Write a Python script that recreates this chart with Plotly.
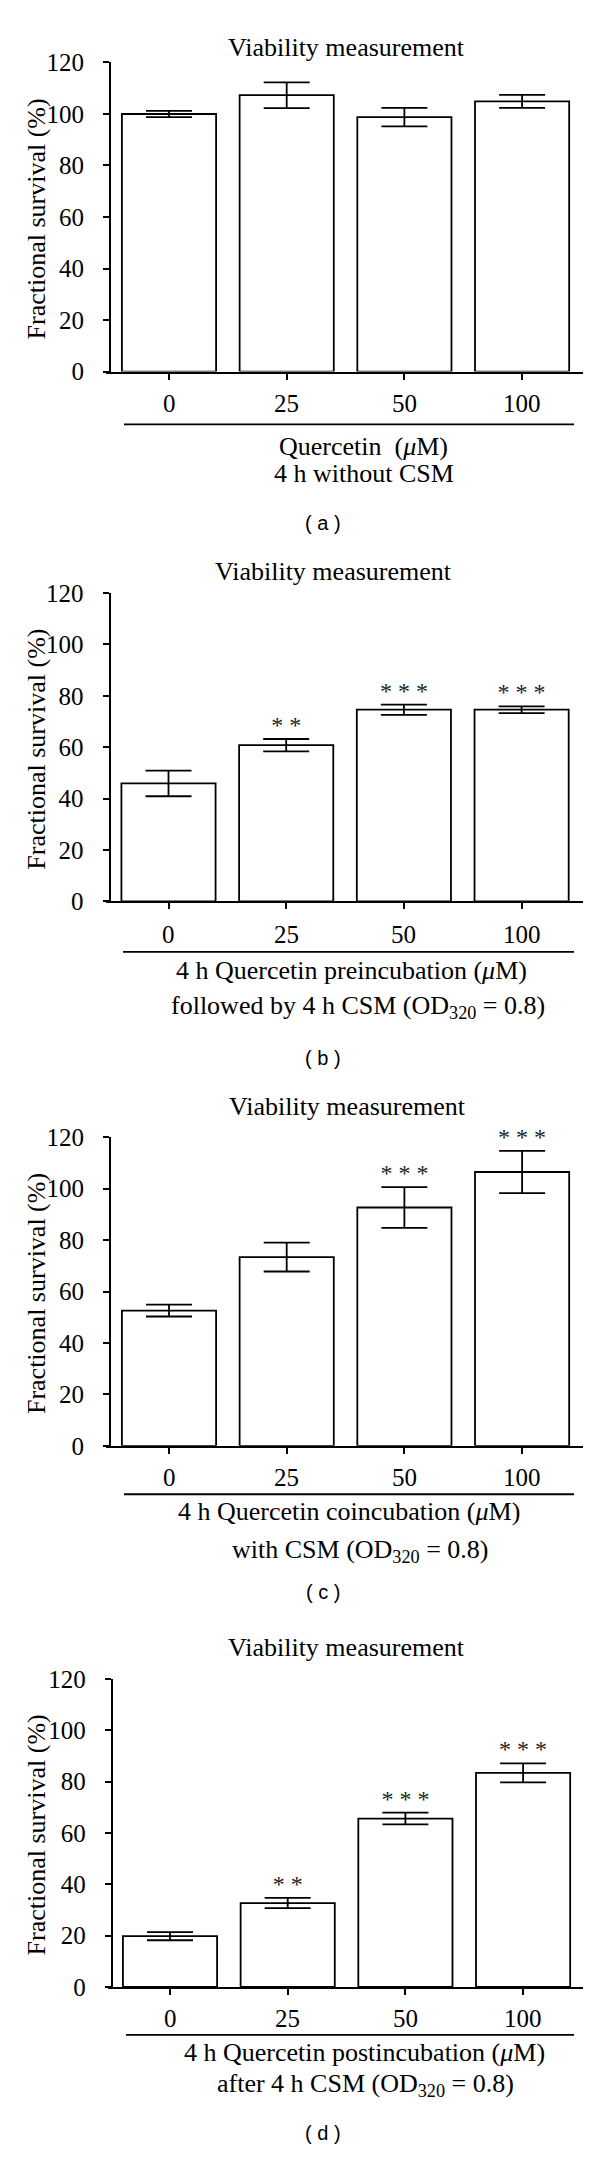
import plotly.graph_objects as go

# page body has an 8px default margin; figure coordinates are compensated
OFF = 8
W, H = 600 - 2 * OFF, 2164 - 2 * OFF

categories = ["0", "25", "50", "100"]

# panel data
vals_a = [100.0, 107.3, 98.8, 104.9]
errs_a = [1.2, 5.0, 3.6, 2.5]
stars_a = ["", "", "", ""]

vals_b = [45.9, 60.8, 74.6, 74.6]
errs_b = [5.0, 2.4, 2.0, 1.3]
stars_b = ["", "* *", "* * *", "* * *"]

vals_c = [52.6, 73.4, 92.7, 106.5]
errs_c = [2.3, 5.6, 7.9, 8.2]
stars_c = ["", "", "* * *", "* * *"]

vals_d = [19.8, 32.7, 65.6, 83.4]
errs_d = [1.6, 2.0, 2.3, 3.7]
stars_d = ["", "* *", "* * *", "* * *"]

titles = ["Viability measurement"] * 4
xtitle1 = ["Quercetin  (<i>μ</i>M)",
           "4 h Quercetin preincubation (<i>μ</i>M)",
           "4 h Quercetin coincubation (<i>μ</i>M)",
           "4 h Quercetin postincubation (<i>μ</i>M)"]
xtitle2 = ["4 h without CSM",
           "followed by 4 h CSM (OD<sub>320</sub> = 0.8)",
           "with CSM (OD<sub>320</sub> = 0.8)",
           "after 4 h CSM (OD<sub>320</sub> = 0.8)"]
panel_labels = ["( a )", "( b )", "( c )", "( d )"]
ytitle = "Fractional survival (%)"
ytickvals = [0, 20, 40, 60, 80, 100, 120]

panels = [
    dict(v=vals_a, e=errs_a, s=stars_a, title=(346, 34.6), top=50, bot=363, tl_y=395, line_y=416.5,
         xt1=(363.5, 439), xt2=(363.5, 466), lab_y=516, yax_x=110, x0=105.8, c0=169, lx=(124, 574)),
    dict(v=vals_b, e=errs_b, s=stars_b, title=(333.7, 566), top=587.4, bot=899.5, tl_y=933.3, line_y=950.8,
         xt1=(351, 970), xt2=(357.7, 1007), lab_y=1058, yax_x=109.6, x0=105.5, c0=168.5, lx=(123, 574)),
    dict(v=vals_c, e=errs_c, s=stars_c, title=(347, 1107), top=1138.5, bot=1451, tl_y=1483, line_y=1500,
         xt1=(349, 1517.5), xt2=(359.6, 1557), lab_y=1599, yax_x=110, x0=105.8, c0=169, lx=(124, 574)),
    dict(v=vals_d, e=errs_d, s=stars_d, title=(346.5, 1655), top=1687, bot=1999, tl_y=2030.7, line_y=2047.5,
         xt1=(364.4, 2065.5), xt2=(365.4, 2098), lab_y=2147, yax_x=111.7, x0=107.5, c0=170, lx=(126, 574)),
]

SERIF = "Liberation Serif, Times New Roman, serif"
FS = 26
TFS = 25
SPACING = 117.7  # px between bar centres

fig = go.Figure()
layout = dict(
    width=W, height=H, margin=dict(l=0, r=0, t=0, b=0, pad=0),
    paper_bgcolor="white", plot_bgcolor="rgba(0,0,0,0)",
    showlegend=False, font=dict(family=SERIF, size=FS, color="black"),
)
annotations = []
shapes = []

def px(x):
    return (x - OFF) / W

def py(y):
    return 1 - (y - OFF) / H

xpos = list(range(len(categories)))

for i, p in enumerate(panels):
    n = "" if i == 0 else str(i + 1)
    xa, ya = "x" + n, "y" + n
    fig.add_trace(go.Bar(
        x=xpos, y=p["v"], xaxis=xa, yaxis=ya, width=0.8,
        marker=dict(color="white", line=dict(color="black", width=1.8)),
        error_y=dict(type="data", array=p["e"], color="black", thickness=1.8, width=23),
        hoverinfo="skip",
    ))
    sx = [xpos[k] for k in range(len(xpos)) if p["s"][k]]
    sy = [p["v"][k] + p["e"][k] for k in range(len(xpos)) if p["s"][k]]
    st = [p["s"][k] for k in range(len(xpos)) if p["s"][k]]
    if sx:
        fig.add_trace(go.Scatter(
            x=sx, y=sy, text=st, mode="text", textposition="top center",
            textfont=dict(family=SERIF, size=24, color="#222"),
            xaxis=xa, yaxis=ya, hoverinfo="skip", cliponaxis=False,
        ))
    x0, x1 = p["x0"], 582.7
    r0 = -(p["c0"] - x0) / SPACING
    r1 = r0 + (x1 - x0) / SPACING
    layout["xaxis" + n] = dict(
        domain=[px(x0), px(x1)], range=[r0, r1],
        tickvals=xpos, showticklabels=False,
        anchor=ya, showline=True, linecolor="black", linewidth=2,
        ticks="outside", ticklen=6, tickwidth=1.8, tickcolor="black",
        showgrid=False, zeroline=False, fixedrange=True,
    )
    layout["yaxis" + n] = dict(
        domain=[py(p["bot"]), py(p["top"])], range=[0, 120],
        anchor="free", position=px(p["yax_x"]),
        showline=True, linecolor="black", linewidth=2,
        ticks="outside", ticklen=6, tickwidth=1.8, tickcolor="black",
        tickvals=ytickvals, showgrid=False, zeroline=False, ticklabelstandoff=14,
        tickfont=dict(family=SERIF, size=TFS, color="black"), fixedrange=True,
    )
    # category labels under the x ticks
    for k, c in enumerate(categories):
        annotations.append(dict(x=xpos[k], y=py(p["tl_y"]), xref=xa, yref="paper",
                                text=c, showarrow=False, xanchor="center", yanchor="middle",
                                font=dict(family=SERIF, size=TFS)))
    annotations.append(dict(x=px(p["title"][0]), y=py(p["title"][1]), xref="paper", yref="paper",
                            text=titles[i], showarrow=False, xanchor="center", yanchor="middle",
                            font=dict(family=SERIF, size=FS)))
    annotations.append(dict(x=px(36.5), y=py((p["top"] + p["bot"]) / 2 + 2), xref="paper", yref="paper",
                            text=ytitle, textangle=-90, showarrow=False,
                            xanchor="center", yanchor="middle",
                            font=dict(family=SERIF, size=FS)))
    annotations.append(dict(x=px(p["xt1"][0]), y=py(p["xt1"][1]), xref="paper", yref="paper",
                            text=xtitle1[i], showarrow=False, xanchor="center", yanchor="middle",
                            font=dict(family=SERIF, size=FS)))
    annotations.append(dict(x=px(p["xt2"][0]), y=py(p["xt2"][1]), xref="paper", yref="paper",
                            text=xtitle2[i], showarrow=False, xanchor="center", yanchor="middle",
                            font=dict(family=SERIF, size=FS)))
    annotations.append(dict(x=px(323), y=py(p["lab_y"]), xref="paper", yref="paper",
                            text=panel_labels[i], showarrow=False, xanchor="center", yanchor="middle",
                            font=dict(family="Liberation Sans, Arial, sans-serif", size=20)))
    shapes.append(dict(type="line", xref="paper", yref="paper",
                       x0=px(p["lx"][0]), x1=px(p["lx"][1]),
                       y0=py(p["line_y"]), y1=py(p["line_y"]),
                       line=dict(color="black", width=1.8)))

layout["annotations"] = annotations
layout["shapes"] = shapes
fig.update_layout(**layout)
fig.write_html("out.html")
